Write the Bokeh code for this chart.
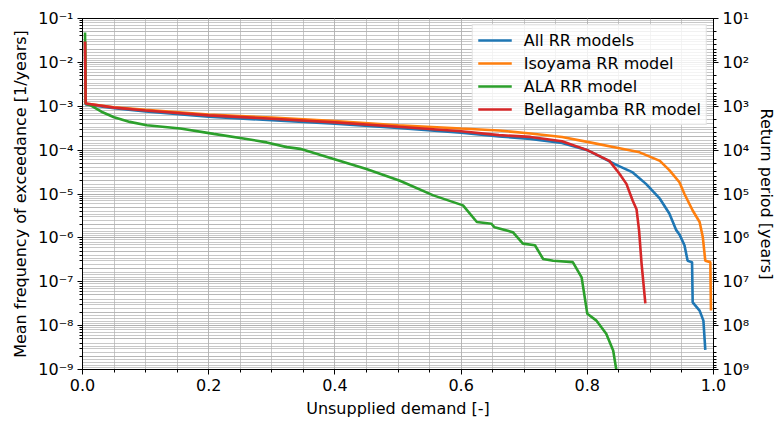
from bokeh.plotting import figure
from bokeh.models import (Range1d, LogAxis, LogTicker, Grid, SingleIntervalTicker,
                          CustomJSTickFormatter, Legend, LegendItem, PrintfTickFormatter, LogScale)
from bokeh.embed import file_html
from bokeh.resources import INLINE

# ---------------- data ----------------
blue_x = [0.004, 0.005, 0.05, 0.1, 0.2, 0.3, 0.4, 0.5, 0.6, 0.66, 0.71, 0.76, 0.8, 0.825,
          0.846, 0.872, 0.893, 0.915, 0.930, 0.941, 0.946, 0.954, 0.959, 0.966, 0.967,
          0.978, 0.984, 0.987]
blue_y = [3.0e-2, 1.1e-3, 9.0e-4, 7.6e-4, 5.8e-4, 4.8e-4, 4.0e-4, 3.2e-4, 2.5e-4, 2.05e-4,
          1.8e-4, 1.45e-4, 1.0e-4, 6.6e-5, 4.6e-5, 3.1e-5, 1.7e-5, 7.8e-6, 3.6e-6, 1.5e-6,
          1.2e-6, 6.8e-7, 3.0e-7, 2.8e-7, 3.4e-8, 2.2e-8, 1.3e-8, 2.8e-9]

orange_x = [0.004, 0.005, 0.05, 0.1, 0.2, 0.3, 0.4, 0.5, 0.6, 0.66, 0.71, 0.76, 0.804,
            0.851, 0.883, 0.915, 0.930, 0.946, 0.954, 0.967, 0.978, 0.983, 0.987, 0.995, 0.996]
orange_y = [3.0e-2, 1.15e-3, 9.5e-4, 8.3e-4, 6.5e-4, 5.5e-4, 4.6e-4, 3.7e-4, 3.1e-4, 2.8e-4,
            2.4e-4, 2.0e-4, 1.5e-4, 1.1e-4, 8.9e-5, 5.7e-5, 3.5e-5, 1.85e-5, 1.0e-5, 4.2e-6,
            2.3e-6, 1.05e-6, 3.0e-7, 2.8e-7, 2.2e-8]

green_x = [0.004, 0.005, 0.013, 0.03, 0.05, 0.075, 0.102, 0.155, 0.208, 0.26, 0.292, 0.324,
           0.345, 0.398, 0.45, 0.503, 0.556, 0.603, 0.625, 0.648, 0.653, 0.682, 0.698, 0.717,
           0.73, 0.746, 0.777, 0.791, 0.80, 0.814, 0.83, 0.841, 0.847]
green_y = [4.8e-2, 1.15e-3, 1.05e-3, 7.5e-4, 5.6e-4, 4.4e-4, 3.7e-4, 3.1e-4, 2.35e-4, 1.8e-4,
           1.5e-4, 1.17e-4, 1.07e-4, 6.3e-5, 3.7e-5, 2.0e-5, 9.3e-6, 5.5e-6, 2.3e-6, 2.1e-6,
           1.74e-6, 1.35e-6, 7.4e-7, 6.8e-7, 3.3e-7, 3.0e-7, 2.8e-7, 1.26e-7, 1.86e-8, 1.32e-8,
           6.5e-9, 2.7e-9, 8e-10]

red_x = [0.004, 0.005, 0.05, 0.1, 0.2, 0.3, 0.4, 0.5, 0.6, 0.66, 0.71, 0.76, 0.8, 0.835,
         0.851, 0.862, 0.872, 0.878, 0.882, 0.886, 0.892]
red_y = [3.0e-2, 1.15e-3, 9.3e-4, 8.0e-4, 6.2e-4, 5.2e-4, 4.3e-4, 3.4e-4, 2.7e-4, 2.2e-4,
         2.0e-4, 1.6e-4, 1.0e-4, 5.7e-5, 2.9e-5, 1.7e-5, 7.0e-6, 4.5e-6, 1.5e-6, 2.6e-7, 3.2e-8]

series_names = ["All RR models", "Isoyama RR model", "ALA RR model", "Bellagamba RR model"]
series_colors = ["#1f77b4", "#ff7f0e", "#2ca02c", "#d62728"]
series_data = [(blue_x, blue_y), (orange_x, orange_y), (green_x, green_y), (red_x, red_y)]

x_limits = (0.0, 1.0)
y_limits = (1e-9, 1e-1)
rp_limits = (1e9, 1e1)   # return period axis: bottom, top

# ---------------- figure ----------------
FONT = "DejaVu Sans"
FS = "16px"
W, H = 779, 422
p = figure(width=W, height=H, y_axis_type="log",
           x_range=Range1d(*x_limits), y_range=Range1d(*y_limits),
           output_backend="svg", toolbar_location=None,
           min_border_left=82, min_border_top=18, min_border_right=W - 714,
           min_border_bottom=H - 369)
p.background_fill_color = "white"
p.border_fill_color = "white"
p.outline_line_color = "black"
p.outline_line_width = 1
p.outline_line_alpha = 1.0

sup = CustomJSTickFormatter(code="""
const s = {"-":"\u207b","0":"\u2070","1":"\u00b9","2":"\u00b2","3":"\u00b3","4":"\u2074",
           "5":"\u2075","6":"\u2076","7":"\u2077","8":"\u2078","9":"\u2079"};
const e = Math.round(Math.log10(tick));
return "10" + String(e).split("").map(c => s[c]).join("");
""")

# x axis
xt = SingleIntervalTicker(interval=0.2, num_minor_ticks=4)
p.xaxis.ticker = xt
p.xgrid.ticker = xt
p.xaxis.formatter = PrintfTickFormatter(format="%.1f")
p.xaxis.axis_label = "Unsupplied demand [-]"

# left y axis
p.yaxis.ticker.num_minor_ticks = 10
p.yaxis.formatter = sup
p.yaxis.axis_label = "Mean frequency of exceedance [1/years]"

# right axis: return period
p.extra_y_ranges = {"rp": Range1d(start=rp_limits[0], end=rp_limits[1])}
p.extra_y_scales = {"rp": LogScale()}
rt = LogTicker(num_minor_ticks=10)
rax = LogAxis(y_range_name="rp", ticker=rt, formatter=sup, axis_label="Return period [years]")
p.add_layout(rax, "right")
g2 = Grid(dimension=1, ticker=rt, y_range_name="rp")
p.add_layout(g2)

GRID = "#b0b0b0"
for g in [p.xgrid[0], p.ygrid[0], g2]:
    g.grid_line_color = GRID
    g.grid_line_alpha = 0.7
    g.grid_line_width = 1
    g.minor_grid_line_color = GRID
    g.minor_grid_line_alpha = 0.7
    g.minor_grid_line_width = 1

for ax in [p.xaxis[0], p.yaxis[0], rax]:
    ax.major_label_text_font = FONT
    ax.major_label_text_font_size = FS
    ax.major_label_text_color = "black"
    ax.axis_label_text_font = FONT
    ax.axis_label_text_font_size = FS
    ax.axis_label_text_font_style = "normal"
    ax.axis_label_text_color = "black"
    ax.axis_line_color = "black"
    ax.major_tick_line_color = "black"
    ax.minor_tick_line_color = "black"
    ax.major_tick_out = 5
    ax.major_tick_in = 0
    ax.minor_tick_out = 3
    ax.minor_tick_in = 0
    ax.axis_label_standoff = 5
    ax.major_label_standoff = 4

items = []
for name, color, (xs, ys) in zip(series_names, series_colors, series_data):
    r = p.line(xs, ys, line_color=color, line_width=2.6)
    items.append(LegendItem(label=name, renderers=[r]))

leg = Legend(items=items, location="top_right")
leg.label_text_font = FONT
leg.label_text_font_size = FS
leg.label_text_color = "black"
leg.label_height = 20
leg.glyph_width = 34
leg.glyph_height = 20
leg.spacing = 3
leg.padding = 5
leg.margin = 6
leg.label_standoff = 12
leg.border_line_color = "#cccccc"
leg.background_fill_alpha = 0.8
p.add_layout(leg)

open("out.html", "w").write(file_html(p, INLINE))
